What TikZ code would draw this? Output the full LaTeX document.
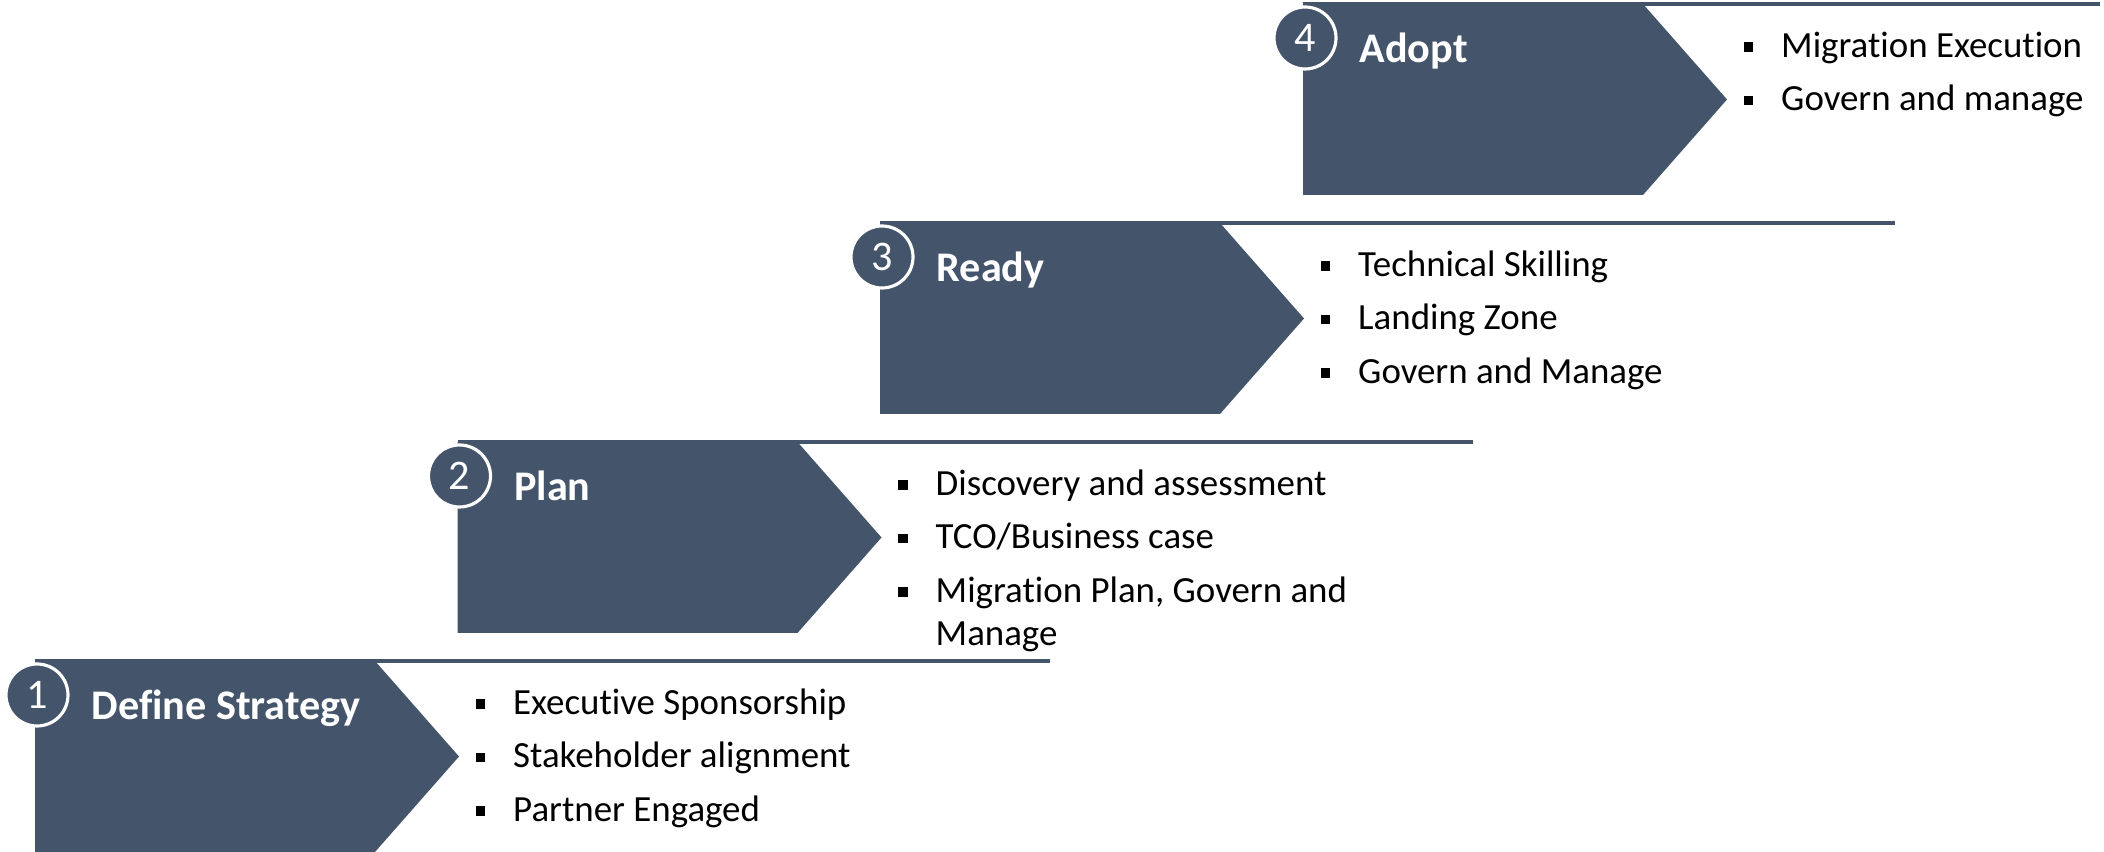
\documentclass[tikz,border=0pt]{standalone}
\usepackage[table]{xcolor}
\usepackage{fontspec}
\setmainfont{Carlito}[Ligatures={NoCommon}]
\usepackage{tikz}

\definecolor{slate}{HTML}{44546A}
\newcommand{\sqbul}{\rule[0.055cm]{0.095cm}{0.095cm}\hspace{0.28cm}}
\tikzset{
  phase/.style={fill=slate},
  topline/.style={draw=slate, line width=1pt},
  badge/.style={circle, fill=slate, draw=white, line width=0.9pt, minimum size=0.62cm,
                inner sep=0pt, text=white, font=\fontsize{12}{14}\selectfont},
  phasetitle/.style={anchor=base west, inner sep=0pt, text=white,
                font=\fontsize{12}{14}\selectfont\bfseries},
  item/.style={anchor=base west, inner sep=0pt, font=\fontsize{10.5}{12.6}\selectfont}
}

\begin{document}
\begin{tikzpicture}
        \useasboundingbox (0,0) rectangle (21.04,8.52);
        \path [phase]  (0.35,0) -- (3.75,0) -- (4.59,0.955) -- (3.75,1.91) -- (0.35,1.91) -- cycle; %step 1
        \coordinate (e1) at (10.50,1.91);                                                       %
        \draw [topline] (0.35,1.91) -- (e1);                                                     %
        \node [badge] (n1) at (0.37,1.57)       {1};                                             %
        \node [phasetitle] (t1) at (0.91,1.325) {Define Strategy};                               %
        \node [item] (s1a) at (4.75,1.375)      {\sqbul Executive Sponsorship};                  %
        \node [item] (s1b) at (4.75,0.84)       {\sqbul Stakeholder alignment};                  %
        \node [item] (s1c) at (4.75,0.305)      {\sqbul Partner Engaged};                        %

        \path [phase]  (4.575,2.19) -- (7.975,2.19) -- (8.815,3.145) -- (7.975,4.10) -- (4.575,4.10) -- cycle; %step 2
        \coordinate (e2) at (14.725,4.10);                                                      %
        \draw [topline] (4.575,4.10) -- (e2);                                                    %
        \node [badge] (n2) at (4.595,3.76)      {2};                                             %
        \node [phasetitle] (t2) at (5.135,3.515){Plan};                                          %
        \node [item] (s2a) at (8.975,3.565)     {\sqbul Discovery and assessment};               %
        \node [item] (s2b) at (8.975,3.03)      {\sqbul TCO/Business case};                      %
        \node [item] (s2c) at (8.975,2.495)     {\sqbul Migration Plan, Govern and};             %
        \node [item] (s2d) at (9.35,2.065)      {Manage};                                        %

        \path [phase]  (8.80,4.38) -- (12.20,4.38) -- (13.04,5.335) -- (12.20,6.29) -- (8.80,6.29) -- cycle; %step 3
        \coordinate (e3) at (18.95,6.29);                                                       %
        \draw [topline] (8.80,6.29) -- (e3);                                                     %
        \node [badge] (n3) at (8.82,5.95)       {3};                                             %
        \node [phasetitle] (t3) at (9.36,5.705) {Ready};                                         %
        \node [item] (s3a) at (13.20,5.755)     {\sqbul Technical Skilling};                     %
        \node [item] (s3b) at (13.20,5.22)      {\sqbul Landing Zone};                           %
        \node [item] (s3c) at (13.20,4.685)     {\sqbul Govern and Manage};                      %

        \path [phase]  (13.03,6.57) -- (16.43,6.57) -- (17.27,7.525) -- (16.43,8.48) -- (13.03,8.48) -- cycle; %step 4
        \coordinate (e4) at (21.00,8.48);                                                       %
        \draw [topline] (13.03,8.48) -- (e4);                                                    %
        \node [badge] (n4) at (13.05,8.14)      {4};                                             %
        \node [phasetitle] (t4) at (13.59,7.895){Adopt};                                         %
        \node [item] (s4a) at (17.43,7.945)     {\sqbul Migration Execution};                    %
        \node [item] (s4b) at (17.43,7.41)      {\sqbul Govern and manage};                      %
      \end{tikzpicture}
\end{document}
